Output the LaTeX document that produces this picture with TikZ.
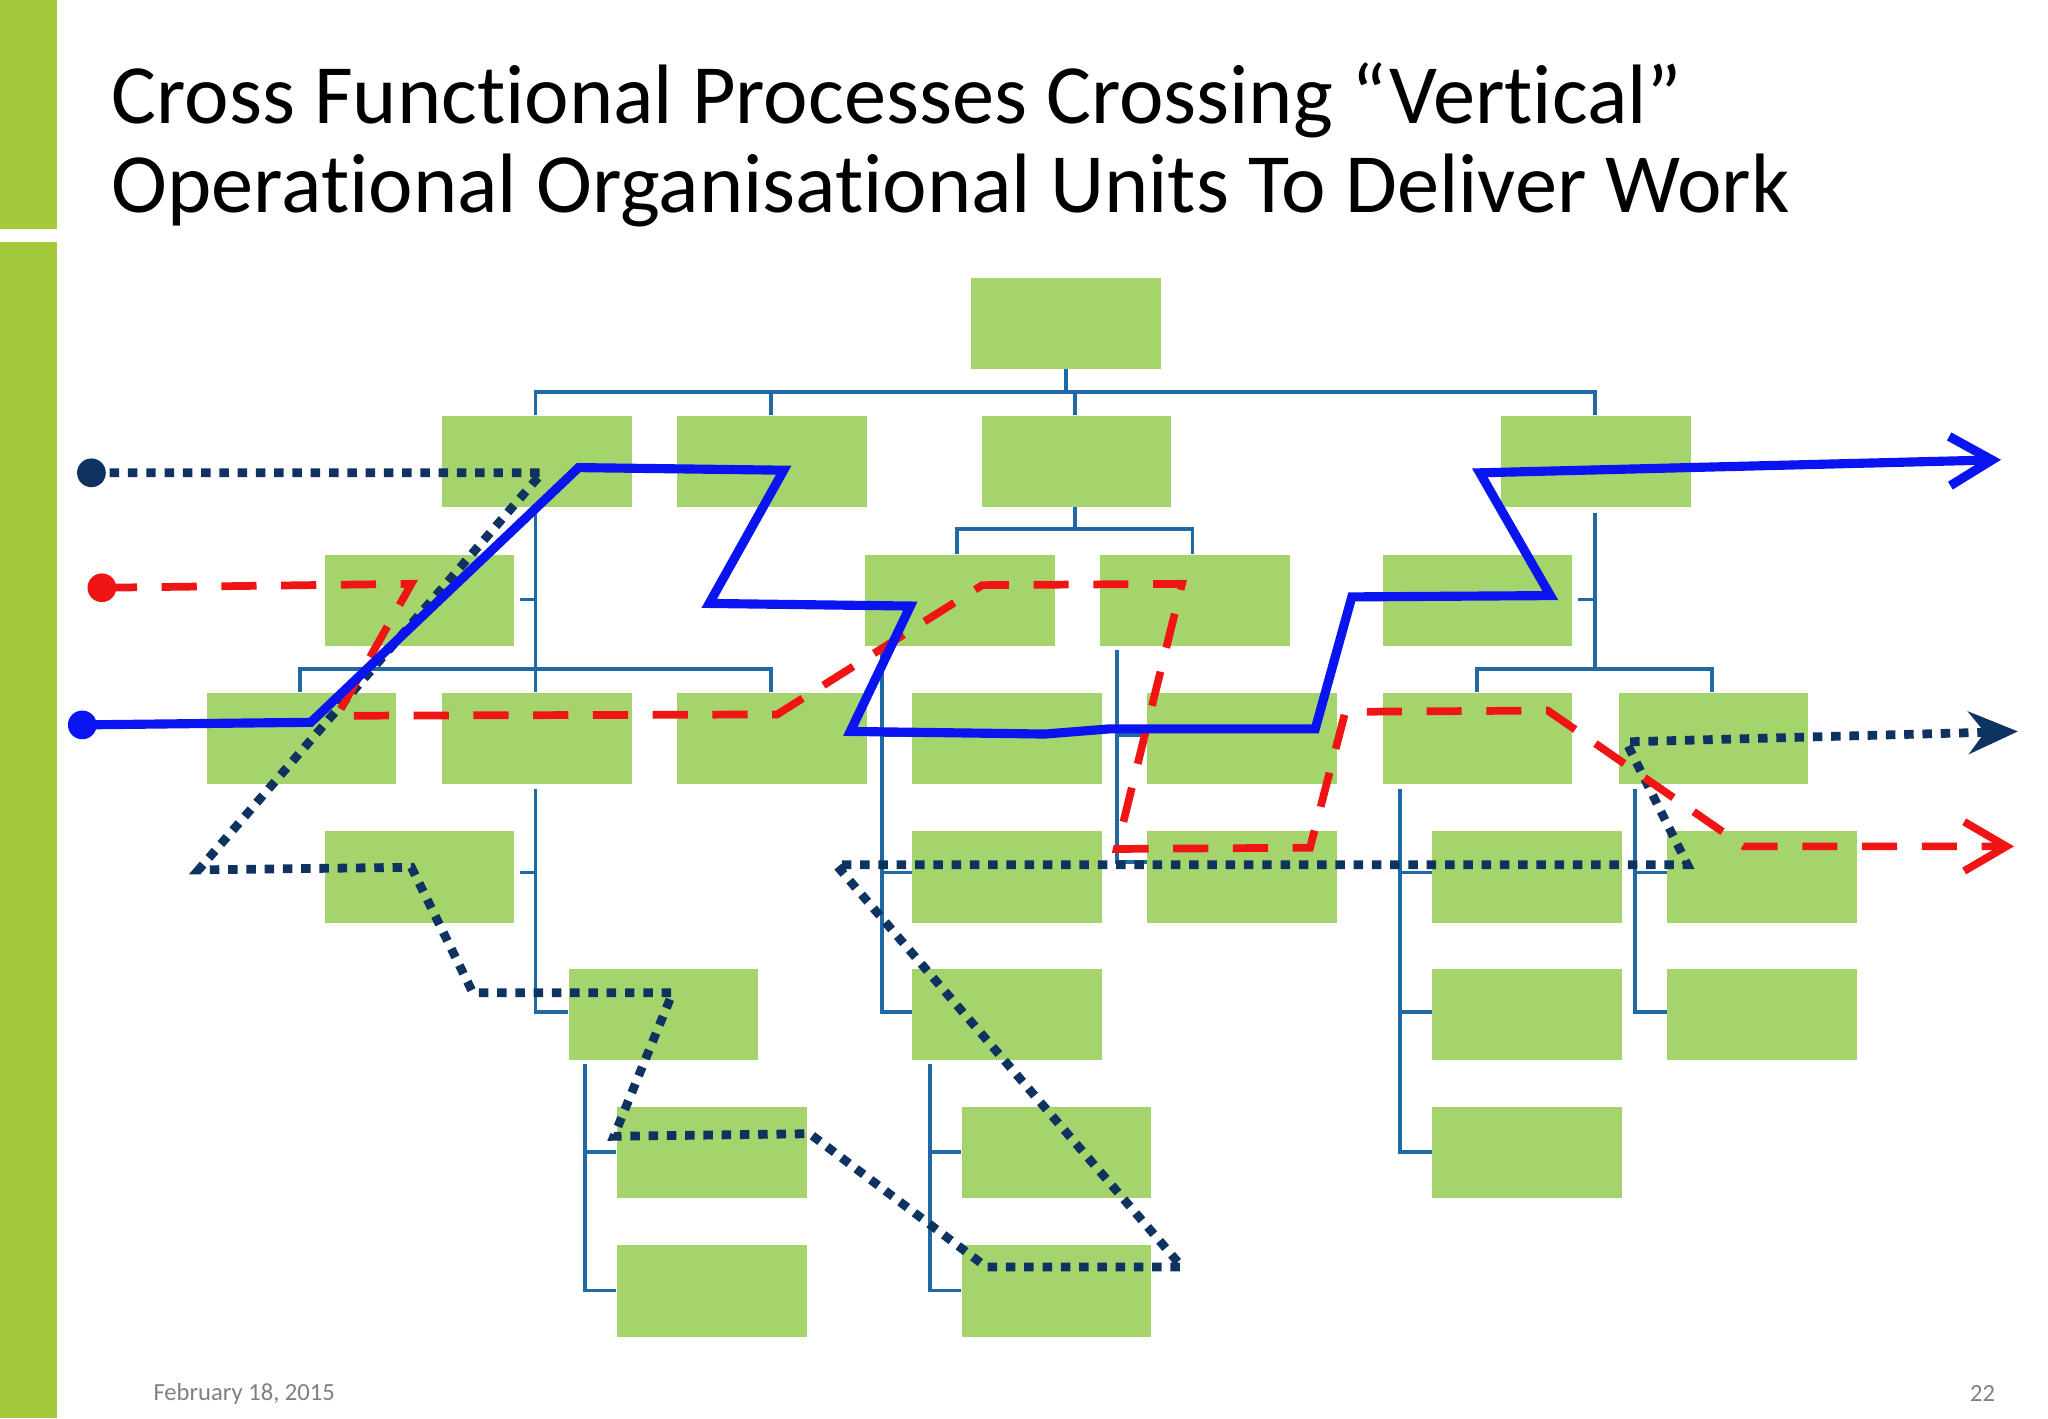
\documentclass[tikz,border=0pt]{standalone}
\usepackage{fontspec}
\setmainfont[Ligatures=NoCommon]{Carlito}
\usetikzlibrary{arrows.meta}
\definecolor{barGreen}{HTML}{A4C93A}
\definecolor{boxGreen}{HTML}{A6D46C}
\definecolor{treeBlue}{HTML}{1F6AA5}
\definecolor{navyDot}{HTML}{0E3360}
\definecolor{flowBlue}{HTML}{0A14F0}
\definecolor{flowRed}{HTML}{F01414}
\tikzset{
  box/.style={fill=boxGreen, draw=none, anchor=north west,
    minimum width=1.894cm, minimum height=0.914cm, inner sep=0pt},
  tree/.style={draw=treeBlue, line width=1.1pt},
  flowsolid/.style={draw=flowBlue, line width=2.6pt, line join=miter},
  flowdash/.style={draw=flowRed, line width=2.2pt, dash pattern=on 10pt off 7pt},
  flowdot/.style={draw=navyDot, line width=2.5pt, dash pattern=on 2.7pt off 2.5pt},
}
\begin{document}
\begin{tikzpicture}[x=0.013061cm, y=-0.013061cm]
  \useasboundingbox (0,0) rectangle (1568,1086);
  \fill[white] (0,0) rectangle (1568,1086);

  % side bars
  \fill[barGreen] (0,0) rectangle (44,175);
  \fill[barGreen] (0,185) rectangle (44,1086);

  % title
  \node[anchor=west, align=left, font=\fontsize{24}{25.5}\selectfont, inner sep=0pt] (title) at (85,111)
    {Cross Functional Processes Crossing “Vertical”\\Operational Organisational Units To Deliver Work};

  % tree lines
  \draw[tree] (816,282) -- (816,300);
  \draw[tree] (410,318) -- (410,300) -- (1221,300) -- (1221,318);
  \draw[tree] (590,300) -- (590,318);
  \draw[tree] (823,300) -- (823,318);
  \draw[tree] (410,388) -- (410,530);
  \draw[tree] (398,459) -- (410,459);
  \draw[tree] (230,530) -- (230,512) -- (590,512) -- (590,530);
  \draw[tree] (410,604) -- (410,775) -- (435,775);
  \draw[tree] (398,668) -- (410,668);
  \draw[tree] (448,815) -- (448,988) -- (472,988);
  \draw[tree] (448,882) -- (472,882);
  \draw[tree] (823,388) -- (823,405);
  \draw[tree] (733,424) -- (733,405) -- (913,405) -- (913,424);
  \draw[tree] (675,498) -- (675,775) -- (698,775);
  \draw[tree] (675,563) -- (698,563);
  \draw[tree] (675,668) -- (698,668);
  \draw[tree] (712,815) -- (712,988) -- (736,988);
  \draw[tree] (712,882) -- (736,882);
  \draw[tree] (855,498) -- (855,660) -- (878,660);
  \draw[tree] (855,563) -- (878,563);
  \draw[tree] (1221,393) -- (1221,512);
  \draw[tree] (1208,459) -- (1221,459);
  \draw[tree] (1131,530) -- (1131,512) -- (1311,512) -- (1311,530);
  \draw[tree] (1072,604) -- (1072,882) -- (1096,882);
  \draw[tree] (1072,668) -- (1096,668);
  \draw[tree] (1072,775) -- (1096,775);
  \draw[tree] (1252,604) -- (1252,775) -- (1276,775);
  \draw[tree] (1252,668) -- (1276,668);

  % boxes
  \node[box] (top) at (743,212) {};
  \node[box] (a1) at (338,318) {};
  \node[box] (a2) at (518,318) {};
  \node[box] (a3) at (751,318) {};
  \node[box] (a4) at (1149,318) {};
  \node[box] (b1) at (248,424) {};
  \node[box] (b2) at (662,424) {};
  \node[box] (b3) at (842,424) {};
  \node[box] (b4) at (1058,424) {};
  \node[box] (c1) at (158,530) {};
  \node[box] (c2) at (338,530) {};
  \node[box] (c3) at (518,530) {};
  \node[box] (c4) at (698,530) {};
  \node[box] (c5) at (878,530) {};
  \node[box] (c6) at (1058,530) {};
  \node[box] (c7) at (1239,530) {};
  \node[box] (d1) at (248,636) {};
  \node[box] (d2) at (698,636) {};
  \node[box] (d3) at (878,636) {};
  \node[box] (d4) at (1096,636) {};
  \node[box] (d5) at (1276,636) {};
  \node[box] (e1) at (435,741) {};
  \node[box] (e2) at (698,741) {};
  \node[box] (e3) at (1096,741) {};
  \node[box] (e4) at (1276,741) {};
  \node[box] (f1) at (472,847) {};
  \node[box] (f2) at (736,847) {};
  \node[box] (f3) at (1096,847) {};
  \node[box] (g1) at (472,953) {};
  \node[box] (g2) at (736,953) {};

  % process flows
  \draw[flowdot, -{Stealth[length=14pt,width=12pt]}] (70,362) -- (415,362) -- (152,666) -- (315,664)
    -- (362,760) -- (515,760) -- (470,870) -- (620,868) -- (755,970) -- (905,970) -- (640,662)
    -- (1292,662) -- (1245,568) -- (1545,560);
  \fill[navyDot] (70,362) circle (11);
  \draw[flowdash, -{Straight Barb[length=12pt,width=14pt]}] (78,450) -- (315,447) -- (258,548) -- (595,547)
    -- (752,448) -- (905,447) -- (855,650) -- (1003,649) -- (1030,545) -- (1185,544) -- (1335,648) -- (1542,648);
  \fill[flowRed] (78,450) circle (11);
  \draw[flowsolid, -{Straight Barb[length=12pt,width=14pt]}] (63,555) -- (238,553) -- (443,358) -- (600,360)
    -- (543,462) -- (697,464) -- (651,560) -- (800,562) -- (850,558) -- (1007,558) -- (1035,457)
    -- (1187,456) -- (1133,362) -- (1532,352);
  \fill[flowBlue] (63,555) circle (11);

  % footer
  \node[anchor=west, text=gray, font=\fontsize{7}{8}\selectfont, inner sep=0pt] (date) at (117,1067) {February 18, 2015};
  \node[anchor=east, text=gray, font=\fontsize{7}{8}\selectfont, inner sep=0pt] (page) at (1528,1067) {22};
\end{tikzpicture}
\end{document}
